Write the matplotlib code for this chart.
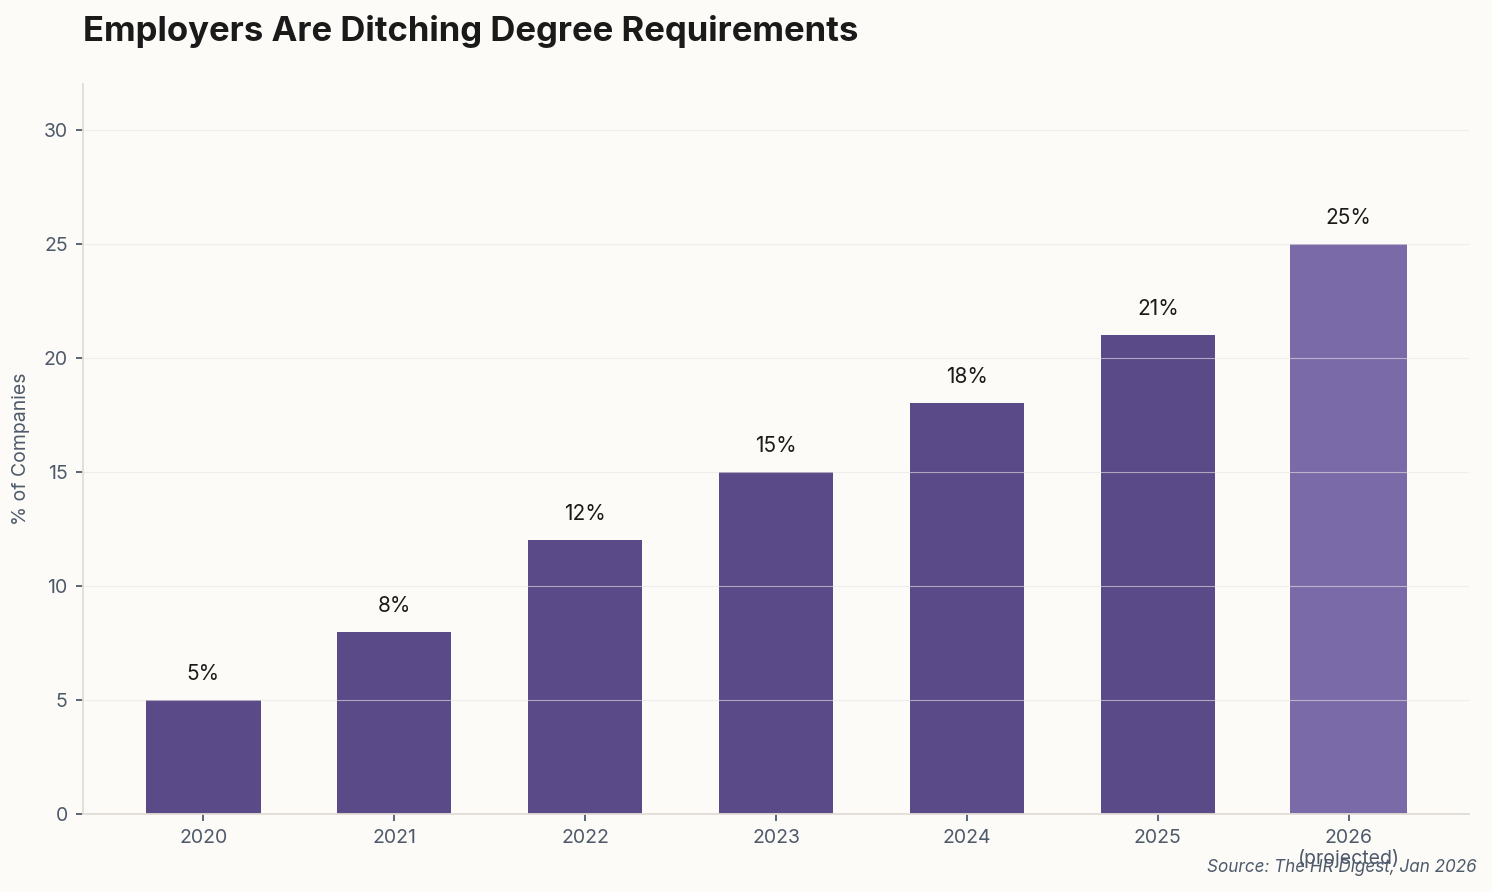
import matplotlib
matplotlib.use("Agg")
import matplotlib.pyplot as plt

# data
years = ["2020", "2021", "2022", "2023", "2024", "2025", "2026\n(projected)"]
pct = [5, 8, 12, 15, 18, 21, 25]
projected = [False, False, False, False, False, False, True]

plt.rcParams['font.family'] = ['Inter', 'DejaVu Sans']

bg = '#fcfbf7'
bar_col = '#5a4a87'
proj_col = '#7b6aa8'
tick_col = '#4e5a6b'

fig = plt.figure(figsize=(14.92, 8.92), dpi=100, facecolor=bg)
ax = fig.add_axes([83 / 1492, 78 / 892, (1469 - 83) / 1492, (814 - 84) / 892])
ax.set_facecolor(bg)

x = list(range(len(years)))
colors = [proj_col if p else bar_col for p in projected]
bars = ax.bar(x, pct, width=0.6, color=colors, zorder=1)
bars[-1].set_width(0.615)
bars[-1].set_x(x[-1] - 0.3075)

for xi, v in zip(x, pct):
    ax.text(xi, v + 0.7, f"{v}%", ha='center', va='bottom', fontsize=15,
            color='#1a1a1a')

ax.set_xlim(-0.63, 6.63)
ax.set_ylim(0, 32)
ax.set_yticks([0, 5, 10, 15, 20, 25, 30])
ax.set_xticks(x)
ax.set_xticklabels(years, linespacing=1.1)

ax.grid(axis='y', color='#e6e6e6', linewidth=0.8, alpha=0.6, zorder=2)
ax.set_axisbelow(False)
ax.grid(axis='x', visible=False)

for s in ['top', 'right']:
    ax.spines[s].set_visible(False)
for s in ['left', 'bottom']:
    ax.spines[s].set_color('#e2dcd6')
    ax.spines[s].set_linewidth(1.3)
    ax.spines[s].set_zorder(3)

ax.tick_params(axis='both', colors=tick_col, labelsize=14, length=5, width=1.3)
ax.tick_params(axis='x', pad=6)
ax.tick_params(axis='y', pad=6)

ax.set_ylabel("% of Companies", fontsize=14, color=tick_col, labelpad=10)

fig.text(83 / 1492, 1 - 31 / 892, "Employers Are Ditching Degree Requirements",
         fontsize=25, fontweight='bold', color='#1a1a1a', ha='left', va='center')
fig.text(1477 / 1492, 1 - 868 / 892, "Source: The HR Digest, Jan 2026",
         fontsize=12.3, style='italic', color=tick_col, ha='right', va='center')

fig.savefig("out.png", dpi=100, facecolor=bg)
